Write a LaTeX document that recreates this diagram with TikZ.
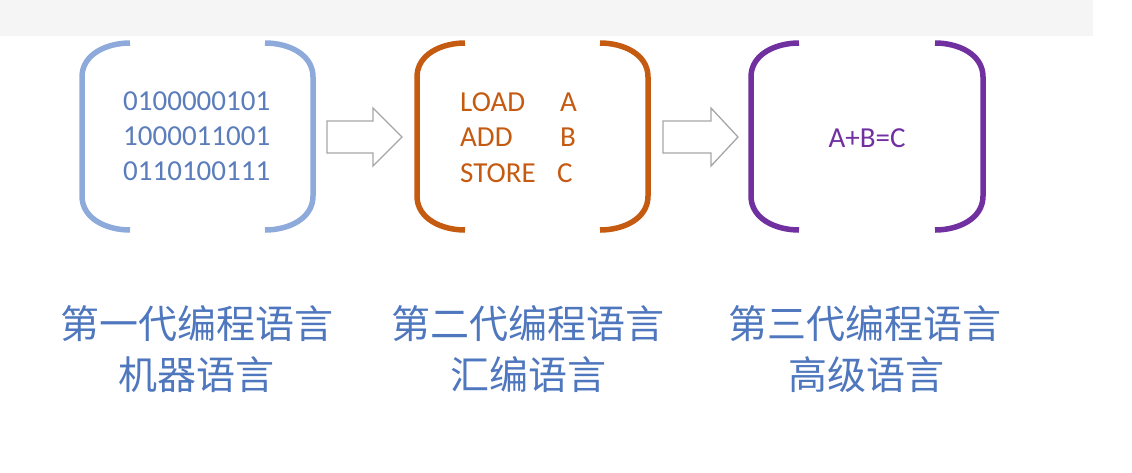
\documentclass[tikz,border=0pt]{standalone}
\usepackage{fontspec}
\setmainfont{Carlito}
\newfontfamily\cjk{Noto Sans CJK SC}
\definecolor{bandgray}{HTML}{F5F5F5}
\definecolor{bblue}{HTML}{8EAADB}
\definecolor{tblue}{HTML}{5B7DBB}
\definecolor{borange}{HTML}{C55A11}
\definecolor{bpurple}{HTML}{7030A0}
\definecolor{lblue}{HTML}{4F77BE}
\definecolor{agray}{HTML}{A6A6A6}
\tikzset{
  brk/.style={line width=5.5pt},
  code/.style={inner sep=0pt, anchor=base west, font=\fontsize{29}{34}\selectfont},
  label/.style={inner sep=0pt, text=lblue, font=\cjk\fontsize{39}{46}\selectfont},
  blockarrow/.style={draw=agray, line width=1.3pt, fill=white, line join=miter},
}
\newcommand{\bracketpair}[5]{% left x, right x, top y, bottom y, color
  \draw[brk,#5] (#1+48,#3) to[out=180,in=90] (#1,#3+34) -- (#1,#4-34) to[out=-90,in=180] (#1+48,#4);
  \draw[brk,#5] (#2-48,#3) to[out=0,in=90] (#2,#3+34) -- (#2,#4-34) to[out=-90,in=0] (#2-48,#4);
}
\begin{document}
\begin{tikzpicture}[x=1pt,y=-1pt]
\useasboundingbox (0,0) rectangle (1132,472);
\fill[bandgray] (0,0) rectangle (1093,36);

% brackets
\bracketpair{82}{313}{43}{230}{bblue}
\bracketpair{417}{648}{43}{230}{borange}
\bracketpair{751}{983}{43}{230}{bpurple}

% bracket 1 contents
\node[code,text=tblue] (b1) at (123,110) {0100000101};
\node[code,text=tblue] (b2) at (123,145) {1000011001};
\node[code,text=tblue] (b3) at (123,180) {0110100111};

% bracket 2 contents
\node[code,text=borange] (a1) at (460,111) {LOAD};
\node[code,text=borange] (a1r) at (560,111) {A};
\node[code,text=borange] (a2) at (460,146) {ADD};
\node[code,text=borange] (a2r) at (560,146) {B};
\node[code,text=borange] (a3) at (460,182) {STORE};
\node[code,text=borange] (a3r) at (557,182) {C};

% bracket 3 contents
\node[code,anchor=base,text=bpurple] (h1) at (867,147) {A+B=C};

% block arrows
\coordinate (ar1) at (327,137);
\coordinate (ar2) at (663,137);
\draw[blockarrow] (ar1) ++(0,-16) -- ++(46,0) -- ++(0,-13) -- ++(29,29) -- ++(-29,29) -- ++(0,-13) -- ++(-46,0) -- cycle;
\draw[blockarrow] (ar2) ++(0,-16) -- ++(48,0) -- ++(0,-13) -- ++(27,29) -- ++(-27,29) -- ++(0,-13) -- ++(-48,0) -- cycle;

% labels
\node[label] (l1a) at (197,324) {第一代编程语言};
\node[label] (l1b) at (196,375) {机器语言};
\node[label] (l2a) at (528,324) {第二代编程语言};
\node[label] (l2b) at (528,375) {汇编语言};
\node[label] (l3a) at (865,324) {第三代编程语言};
\node[label] (l3b) at (866,375) {高级语言};
\end{tikzpicture}
\end{document}
